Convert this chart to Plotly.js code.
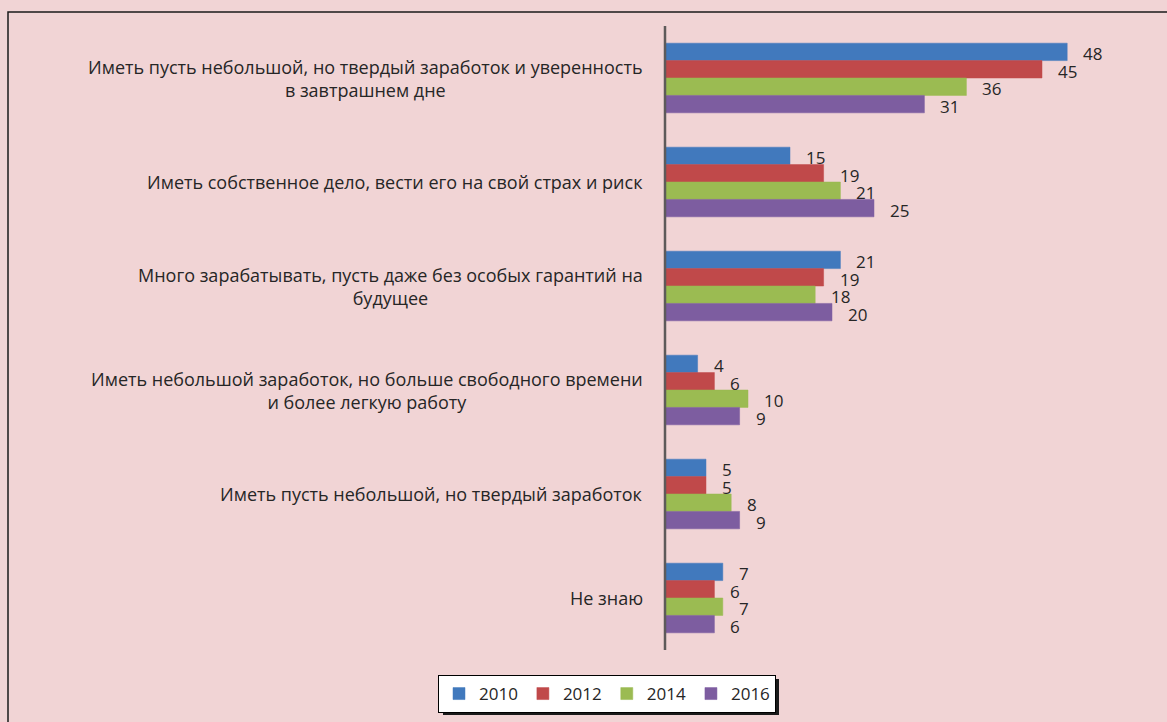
<!DOCTYPE html>
<html><head><meta charset="utf-8">
<script src="https://cdn.plot.ly/plotly-3.0.1.min.js"></script>
<style>html,body{margin:0;padding:0;background:#F1D4D5;}</style>
</head><body>
<div id="chart" style="width:1167px;height:722px;"></div>
<script>
const categories = [
  "Иметь пусть небольшой, но твердый заработок и уверенность<br>в завтрашнем дне",
  "Иметь собственное дело, вести его на свой страх и риск",
  "Много зарабатывать, пусть даже без особых гарантий на<br>будущее",
  "Иметь небольшой заработок, но больше свободного времени<br>и более легкую работу",
  "Иметь пусть небольшой, но твердый заработок",
  "Не знаю"
];
const years = ["2010", "2012", "2014", "2016"];
const v2010 = [48, 15, 21, 4, 5, 7];
const v2012 = [45, 19, 19, 6, 5, 6];
const v2014 = [36, 21, 18, 10, 8, 7];
const v2016 = [31, 25, 20, 9, 9, 6];
const seriesValues = [v2010, v2012, v2014, v2016];
const colors = ["#4179BD", "#C0494A", "#9BBB52", "#7D5DA0"];

const catIds = categories.map((c, i) => "c" + i);
const FONT = "'Open Sans', 'Noto Sans', sans-serif";

const traces = seriesValues.map((vals, k) => ({
  type: "bar",
  orientation: "h",
  name: years[k],
  x: vals,
  y: catIds,
  marker: {color: colors[k], line: {color: colors[k], width: 0.5}},
  hoverinfo: "skip"
}));

const annotations = [];
categories.forEach((c, i) => {
  annotations.push({
    xref: "paper", yref: "y", x: -0.039, y: catIds[i],
    xanchor: "right", yanchor: "middle", align: "center",
    text: c, showarrow: false,
    font: {family: FONT, size: 18, color: "#262626"}
  });
});
const barPx = 17.5;
seriesValues.forEach((vals, k) => {
  vals.forEach((v, i) => {
    annotations.push({
      xref: "x", yref: "y", x: v, y: catIds[i],
      xanchor: "left", yanchor: "middle",
      xshift: 14, yshift: (1.5 - k) * barPx - 2,
      text: String(v), showarrow: false,
      font: {family: FONT, size: 17, color: "#262626"}
    });
  });
});

const L = 664, R = 1150, T = 26, B = 650;
const px = x => (x - L) / (R - L);
const py = y => (B - y) / (B - T);

const layout = {
  width: 1167, height: 722,
  margin: {l: L, r: 1167 - R, t: T, b: 722 - B, pad: 0},
  paper_bgcolor: "#F1D4D5",
  plot_bgcolor: "rgba(0,0,0,0)",
  barmode: "group",
  bargap: 0.33,
  bargroupgap: 0,
  showlegend: true,
  font: {family: FONT, size: 17, color: "#262626"},
  xaxis: {range: [0, (R - L) / 8.4], visible: false, fixedrange: true},
  yaxis: {
    type: "category", autorange: "reversed",
    showticklabels: false, ticks: "", showgrid: false, zeroline: false,
    showline: false
  },
  legend: {
    orientation: "h",
    xref: "container", yref: "container",
    x: 607 / 1167, xanchor: "center",
    y: 1 - 675 / 722, yanchor: "top",
    bgcolor: "#FFFFFF", bordercolor: "#000000", borderwidth: 1,
    font: {family: FONT, size: 17, color: "#262626"},
    itemwidth: 30, traceorder: "normal"
  },
  shapes: [
    {type: "rect", xref: "paper", yref: "paper",
     x0: px(8), x1: px(1300), y0: py(12), y1: py(900),
     line: {color: "#1a1a1a", width: 1.5}, fillcolor: "rgba(0,0,0,0)", layer: "below"},
    {type: "line", xref: "paper", yref: "paper",
     x0: px(665), x1: px(665), y0: py(26), y1: py(650),
     line: {color: "#5E5A5A", width: 2.5}, layer: "above"},
    {type: "rect", xref: "paper", yref: "paper",
     x0: px(443), x1: px(779), y0: py(679), y1: py(715),
     line: {width: 0}, fillcolor: "#1a1a1a", layer: "below"}
  ],
  annotations: annotations
};

Plotly.newPlot("chart", traces, layout, {displayModeBar: false, staticPlot: true});
</script>
</body></html>
